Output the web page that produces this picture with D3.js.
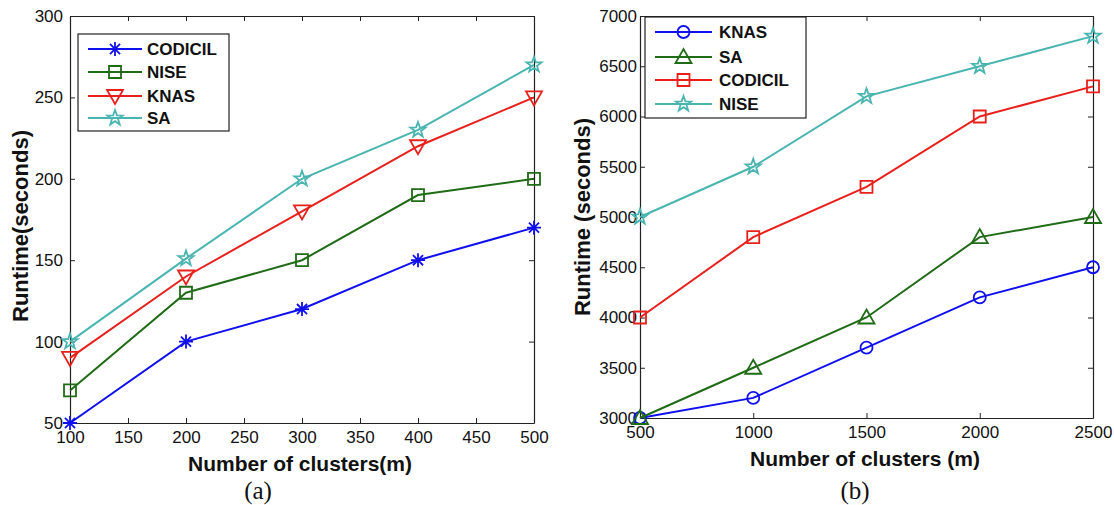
<!DOCTYPE html>
<html>
<head>
<meta charset="utf-8">
<script src="https://cdn.jsdelivr.net/npm/d3@7/dist/d3.min.js"></script>
<style>
  body { margin: 0; background: #fff; }
  svg text { font-family: "Liberation Sans", Arial, sans-serif; }
</style>
</head>
<body>
<svg id="chart" width="1114" height="505"></svg>
<script>
// panel (a)
const clustersA = [100, 200, 300, 400, 500];
const codicilA = [50, 100, 120, 150, 170];
const niseA = [70, 130, 150, 190, 200];
const knasA = [90, 140, 180, 220, 250];
const saA = [100, 151, 200, 230, 270];
const xTicksA = [100, 150, 200, 250, 300, 350, 400, 450, 500];
const yTicksA = [50, 100, 150, 200, 250, 300];

// panel (b)
const clustersB = [500, 1000, 1500, 2000, 2500];
const knasB = [3000, 3200, 3700, 4200, 4500];
const saB = [3000, 3500, 4000, 4800, 5000];
const codicilB = [4000, 4800, 5300, 6000, 6300];
const niseB = [5000, 5500, 6200, 6500, 6800];
const xTicksB = [500, 1000, 1500, 2000, 2500];
const yTicksB = [3000, 3500, 4000, 4500, 5000, 5500, 6000, 6500, 7000];

const BLUE = "#1010ee", GREEN = "#1f6b16", RED = "#e8201c", TEAL = "#4ab5b0";

// marker paths, r = half size
const markers = {
  asterisk: r => {
    const k = r * 0.72;
    return `M${-r},0L${r},0M0,${-r}L0,${r}M${-k},${-k}L${k},${k}M${-k},${k}L${k},${-k}`;
  },
  square: r => `M${-r},${-r}H${r}V${r}H${-r}Z`,
  triDown: r => `M${-r},${-r * 0.75}L${r},${-r * 0.75}L0,${r}Z`,
  triUp: r => `M${-r},${r * 0.75}L${r},${r * 0.75}L0,${-r}Z`,
  circle: r => `M${r},0A${r},${r} 0 1,1 ${-r},0A${r},${r} 0 1,1 ${r},0Z`,
  star: r => {
    let p = "";
    for (let i = 0; i < 10; i++) {
      const rr = i % 2 ? r * 0.4 : r;
      const a = -Math.PI / 2 + i * Math.PI / 5;
      p += (i ? "L" : "M") + (rr * Math.cos(a)).toFixed(2) + "," + (rr * Math.sin(a)).toFixed(2);
    }
    return p + "Z";
  }
};

const svg = d3.select("#chart");

function drawPanel(cfg) {
  const { left, right, top, bottom } = cfg.frame;
  const x = d3.scaleLinear().domain(cfg.xDomain).range([left, right]);
  const y = d3.scaleLinear().domain(cfg.yDomain).range([bottom, top]);
  const g = svg.append("g");

  const styleAxis = a => {
    a.select(".domain").attr("stroke", "#222").attr("stroke-width", 1.2);
    a.selectAll(".tick line").attr("stroke", "#222");
    a.selectAll("text").attr("font-size", 17).attr("fill", "#111")
      .attr("font-family", "'Liberation Sans', Arial, sans-serif");
  };

  g.append("g").attr("transform", `translate(0,${bottom})`)
    .call(d3.axisBottom(x).tickValues(cfg.xTicks).tickSizeInner(-5).tickSizeOuter(0).tickPadding(8).tickFormat(d3.format("d")))
    .call(styleAxis);
  g.append("g").attr("transform", `translate(0,${top})`)
    .call(d3.axisTop(x).tickValues(cfg.xTicks).tickSizeInner(-5).tickSizeOuter(0).tickFormat(""))
    .call(styleAxis);
  g.append("g").attr("transform", `translate(${left},0)`)
    .call(d3.axisLeft(y).tickValues(cfg.yTicks).tickSizeInner(-5).tickSizeOuter(0).tickPadding(cfg.yPad).tickFormat(d3.format("d")))
    .call(styleAxis);
  g.append("g").attr("transform", `translate(${right},0)`)
    .call(d3.axisRight(y).tickValues(cfg.yTicks).tickSizeInner(-5).tickSizeOuter(0).tickFormat(""))
    .call(styleAxis);

  const line = d3.line().x(d => x(d[0])).y(d => y(d[1]));

  cfg.series.forEach(s => {
    const pts = cfg.xs.map((v, i) => [v, s.values[i]]);
    g.append("path").datum(pts)
      .attr("fill", "none").attr("stroke", s.color).attr("stroke-width", 2)
      .attr("d", line);
    g.selectAll(null).data(pts).enter().append("path")
      .attr("transform", d => `translate(${x(d[0])},${y(d[1])})`)
      .attr("d", markers[s.marker](s.r))
      .attr("fill", "none").attr("stroke", s.color).attr("stroke-width", 1.8);
  });

  // legend
  const L = cfg.legend;
  g.append("rect").attr("x", L.x).attr("y", L.y).attr("width", L.w).attr("height", L.h)
    .attr("fill", "#fff").attr("stroke", "#222").attr("stroke-width", 1.2);
  cfg.series.forEach((s, i) => {
    const ly = L.rows[i];
    g.append("line").attr("x1", L.lx1).attr("x2", L.lx2).attr("y1", ly).attr("y2", ly)
      .attr("stroke", s.color).attr("stroke-width", 2);
    g.append("path").attr("transform", `translate(${(L.lx1 + L.lx2) / 2},${ly})`)
      .attr("d", markers[s.marker](s.r))
      .attr("fill", "none").attr("stroke", s.color).attr("stroke-width", 1.8);
    g.append("text").attr("x", L.tx).attr("y", ly).attr("dy", "0.36em")
      .attr("font-size", 17).attr("font-weight", "bold").attr("fill", "#111")
      .text(s.name);
  });

  // axis titles
  g.append("text").attr("x", cfg.xTitle[1]).attr("y", cfg.xTitle[2])
    .attr("text-anchor", "middle").attr("font-size", 21).attr("font-weight", "bold").attr("fill", "#111")
    .text(cfg.xTitle[0]);
  g.append("text").attr("transform", `translate(${cfg.yTitle[1]},${cfg.yTitle[2]}) rotate(-90)`)
    .attr("text-anchor", "middle").attr("font-size", 22).attr("font-weight", "bold").attr("fill", "#111")
    .text(cfg.yTitle[0]);
  g.append("text").attr("x", cfg.sub[1]).attr("y", cfg.sub[2])
    .attr("text-anchor", "middle").attr("font-size", 25).attr("fill", "#111")
    .style("font-family", "'Liberation Serif', 'Times New Roman', serif")
    .text(cfg.sub[0]);
}

drawPanel({
  frame: { left: 70, right: 534, top: 16, bottom: 423 },
  xDomain: [100, 500], yDomain: [50, 300],
  xTicks: xTicksA, yTicks: yTicksA, yPad: 7,
  xs: clustersA,
  series: [
    { name: "CODICIL", values: codicilA, color: BLUE, marker: "asterisk", r: 7 },
    { name: "NISE", values: niseA, color: GREEN, marker: "square", r: 6 },
    { name: "KNAS", values: knasA, color: RED, marker: "triDown", r: 8 },
    { name: "SA", values: saA, color: TEAL, marker: "star", r: 8 }
  ],
  legend: { x: 78, y: 34, w: 151, h: 97, rows: [49, 72, 96, 118], lx1: 88, lx2: 142, tx: 147 },
  xTitle: ["Number of clusters(m)", 300, 471],
  yTitle: ["Runtime(seconds)", 28, 226],
  sub: ["(a)", 258, 499]
});

drawPanel({
  frame: { left: 640, right: 1093, top: 16, bottom: 418 },
  xDomain: [500, 2500], yDomain: [3000, 7000],
  xTicks: xTicksB, yTicks: yTicksB, yPad: 3,
  xs: clustersB,
  series: [
    { name: "KNAS", values: knasB, color: BLUE, marker: "circle", r: 6 },
    { name: "SA", values: saB, color: GREEN, marker: "triUp", r: 8 },
    { name: "CODICIL", values: codicilB, color: RED, marker: "square", r: 6 },
    { name: "NISE", values: niseB, color: TEAL, marker: "star", r: 8 }
  ],
  legend: { x: 645, y: 17, w: 161, h: 101, rows: [32, 57, 80, 104], lx1: 655, lx2: 712, tx: 719 },
  xTitle: ["Number of clusters (m)", 865, 466],
  yTitle: ["Runtime (seconds)", 590, 217],
  sub: ["(b)", 855, 499]
});
</script>
</body>
</html>
